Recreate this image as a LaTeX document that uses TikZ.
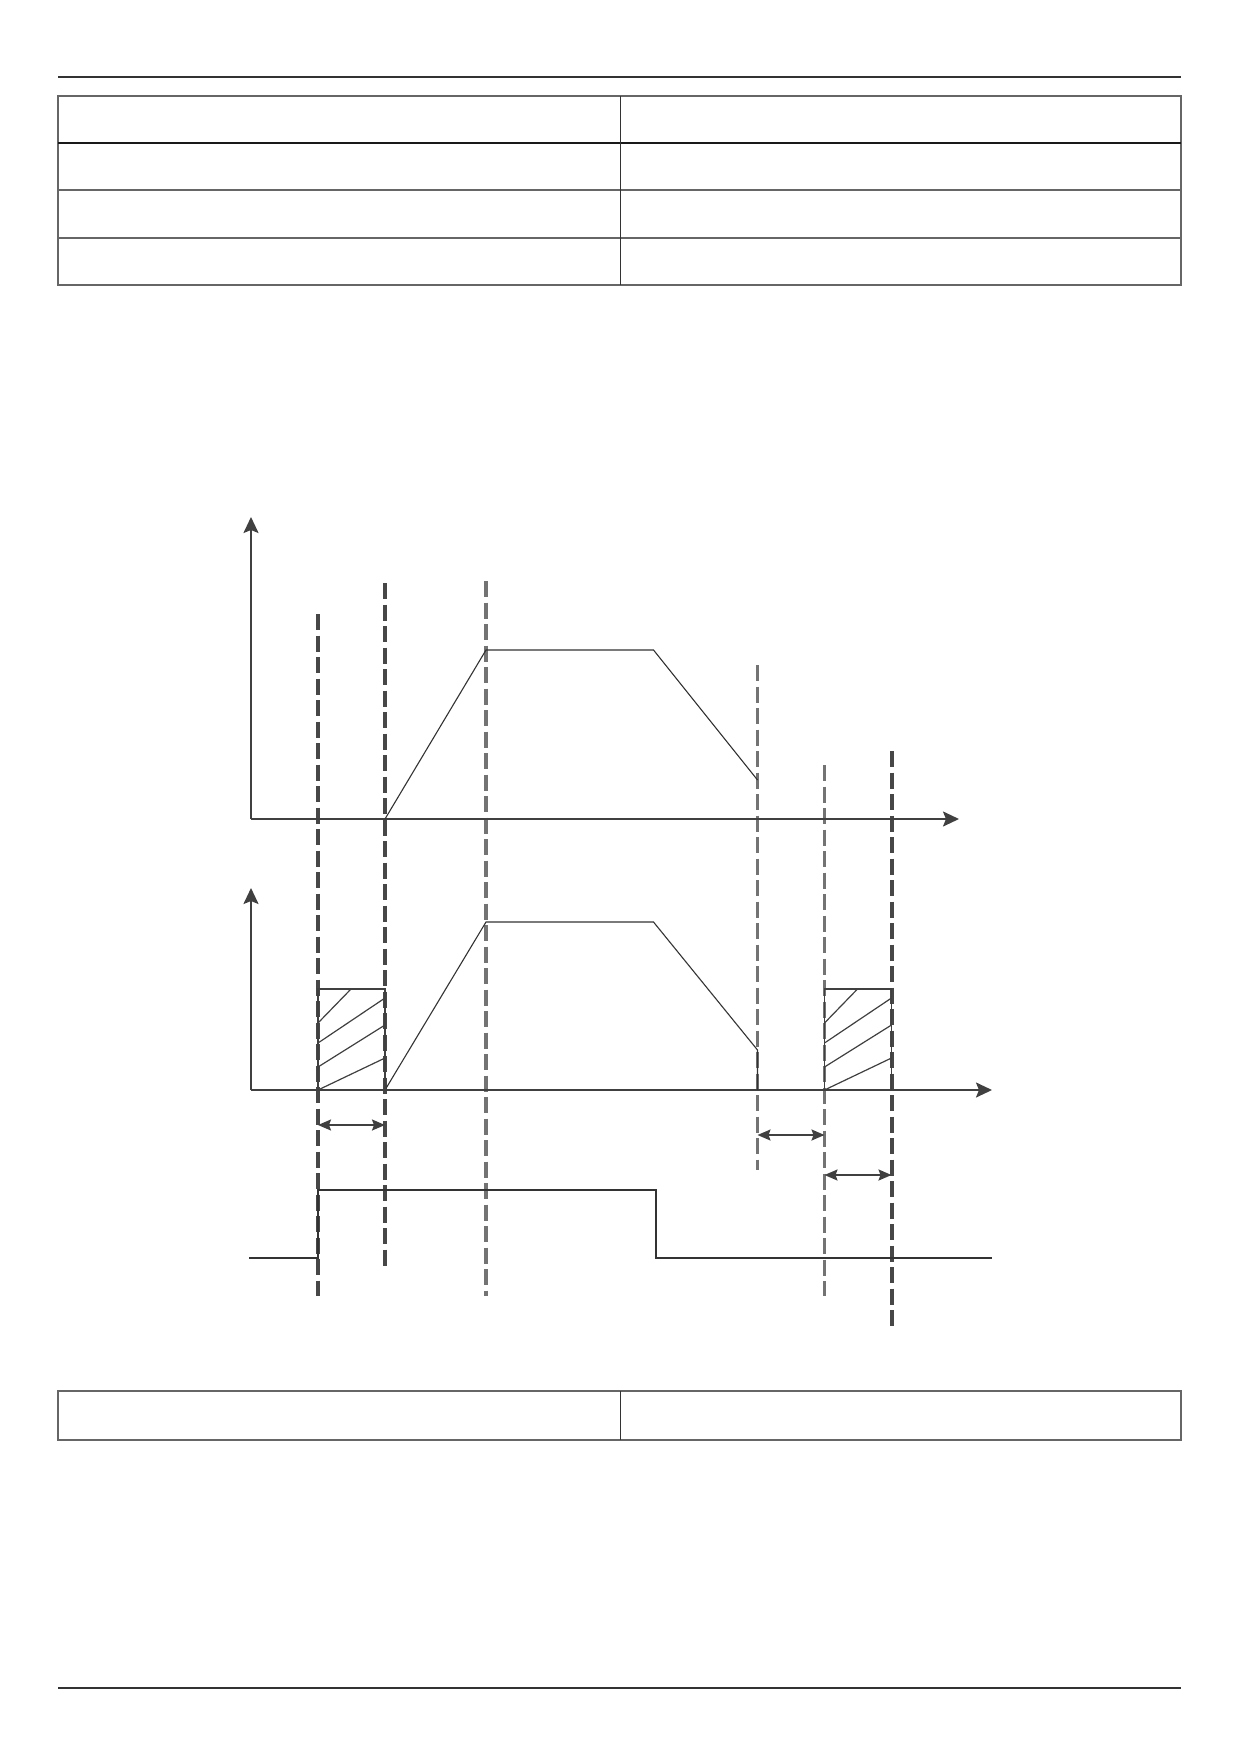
\documentclass[tikz,border=0pt]{standalone}
\usetikzlibrary{arrows.meta}
\begin{document}
\begin{tikzpicture}[x=1pt,y=-1pt,
  rule/.style={line width=1.8pt, draw=black!80},
  tab/.style={line width=1.4pt, draw=black!60},
  axis/.style={line width=2pt, draw=black!75, -{Stealth[length=16pt,width=15pt,inset=3pt]}},
  curve/.style={line width=1.1pt, draw=black!80},
  vdash/.style={line width=4pt, draw=black!72, dash pattern=on 16pt off 5.5pt},
  vdashl/.style={vdash, line width=3.4pt, draw=black!55},
  hatch/.style={line width=1.2pt, draw=black!75},
  dim/.style={line width=1.8pt, draw=black!75, {Stealth[length=13pt,width=11pt,inset=2pt]}-{Stealth[length=13pt,width=11pt,inset=2pt]}},
  sig/.style={line width=1.3pt, draw=black!80},
]
\useasboundingbox (0,0) rectangle (1239,1752);
\fill[white] (0,0) rectangle (1239,1752);

% header rule and top table
\draw[rule] (58,77) -- (1181,77);
\draw[tab] (58,96) rectangle (1181,285);
\draw[line width=2pt, draw=black!90] (58,143) -- (1181,143);
\foreach \y in {190,238} \draw[tab] (58,\y) -- (1181,\y);
\draw[line width=1pt, draw=black!80] (620,96) -- (620,285);

% bottom table and footer rule
\draw[tab] (58,1391) rectangle (1181,1440);
\draw[line width=1pt, draw=black!80] (620,1391) -- (620,1440);
\draw[rule] (58,1688) -- (1181,1688);

% axis origins
\coordinate (o1) at (251,819);
\coordinate (o2) at (251,1090);

% vertical dashed lines
\draw[vdash]  (318,614) -- (318,1296);
\draw[vdash]  (385,583) -- (385,1266);
\draw[vdashl] (486,581) -- (486,1296);
\draw[vdashl] (757.5,665) -- (757.5,1170);
\draw[vdashl] (824.5,765) -- (824.5,1296);
\draw[vdash]  (891.5,751) -- (891.5,1327);

% upper chart
\draw[axis] (o1) -- (251,517);
\draw[axis] (o1) -- (959,819);
\draw[curve] (385,819) -- (486,650) -- (653.5,650) -- (757.5,780);

% lower chart
\draw[axis] (o2) -- (251,888);
\draw[axis] (o2) -- (992,1090);
\draw[curve] (385,1090) -- (486,922) -- (653.5,922) -- (757.5,1050) -- (757.5,1090);

% hatched rectangles
\foreach \xa/\xb in {318/385, 824.5/891.5}{
  \draw[hatch] (\xa,1090) -- (\xa,989) -- (\xb,989) -- (\xb,1090);
  \draw[hatch] (\xa,1023) -- (\xa+33,989);
  \draw[hatch] (\xa,1043) -- (\xb,998);
  \draw[hatch] (\xa,1067) -- (\xb,1025);
  \draw[hatch] (\xa,1090) -- (\xb,1058);
}

% dimension arrows
\draw[dim] (318,1125) -- (385,1125);
\draw[dim] (757.5,1135) -- (824.5,1135);
\draw[dim] (824.5,1175) -- (891.5,1175);

% signal
\draw[sig] (249,1258) -- (318,1258) -- (318,1190) -- (656,1190) -- (656,1258) -- (992,1258);
\end{tikzpicture}
\end{document}
